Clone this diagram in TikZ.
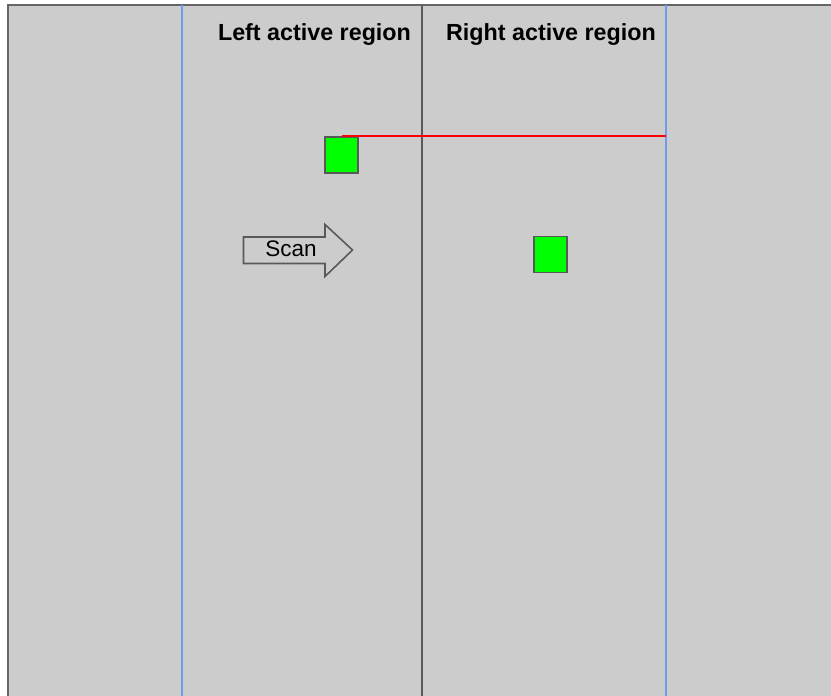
\documentclass[tikz,border=0pt]{standalone}
\usepackage{fontspec}
\setmainfont{Liberation Sans}
\definecolor{bg}{HTML}{CCCCCC}
\definecolor{frame}{HTML}{666666}
\definecolor{mid}{HTML}{595959}
\definecolor{guide}{HTML}{6D9EEB}
\definecolor{trace}{HTML}{FF0000}
\definecolor{cell}{HTML}{00FF00}
\tikzset{
  header/.style={font=\fontsize{23.3}{26}\selectfont\bfseries, inner sep=0pt, anchor=base},
  cellbox/.style={draw=mid, line width=1.8pt, fill=cell, minimum width=33pt, minimum height=36pt, inner sep=0pt},
  guideline/.style={draw=guide, line width=1.8pt},
  midline/.style={draw=mid, line width=1.8pt},
  arrowshape/.style={draw=mid, line width=1.6pt, fill=bg, line join=miter},
}
\begin{document}
\begin{tikzpicture}[x=1pt, y=-1pt]
\useasboundingbox (0,0) rectangle (831,696);
% background panel
\fill[bg] (8,5) rectangle (831,696);
\draw[frame, line width=2.2pt] (8,696) -- (8,5) -- (831,5);
% guide lines
\coordinate (lt) at (182,5);
\coordinate (lb) at (182,696);
\coordinate (mt) at (422,5);
\coordinate (mb) at (422,696);
\coordinate (rt) at (666,5);
\coordinate (rb) at (666,696);
\draw[guideline] (lt) -- (lb);
\draw[midline] (mt) -- (mb);
\draw[guideline] (rt) -- (rb);
% headers
\node[header] (lhead) at (314.5,40) {Left active region};
\node[header] (rhead) at (551,40) {Right active region};
% cells
\node[cellbox] (c1) at (341.5,155) {};
\node[cellbox] (c2) at (550.5,254.5) {};
% red trace
\draw[trace, line width=2pt] (c1.north) -- (c1.north -| rt);
% scan arrow
\draw[arrowshape] (243.5,237) -- (325,237) -- (325,224.5) -- (352.5,250) -- (325,276.5) -- (325,263.5) -- (243.5,263.5) -- cycle;
\node[font=\fontsize{22.5}{25}\selectfont, inner sep=0pt] (scan) at (291,249) {Scan};
\end{tikzpicture}
\end{document}
